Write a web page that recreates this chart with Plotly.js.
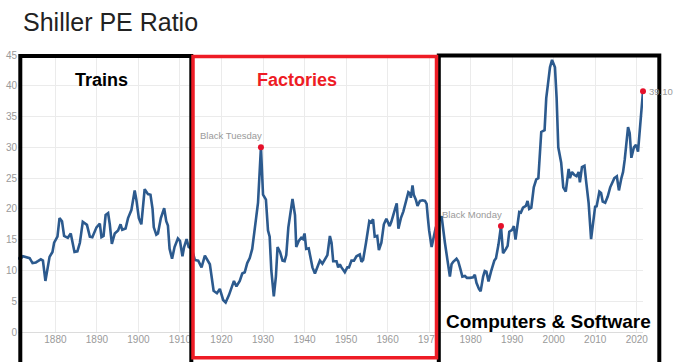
<!DOCTYPE html>
<html>
<head>
<meta charset="utf-8">
<script src="https://cdn.plot.ly/plotly-3.0.1.min.js"></script>
<style>html,body{margin:0;padding:0;background:#fff;}#chart{width:680px;height:362px;}</style>
</head>
<body>
<div id="chart"></div>
<script>
// Shiller PE ratio
const years = [
1871.0,1871.6,1872.2,1873.0,1873.8,1874.5,1875.3,1875.8,1876.5,1877.0,1877.6,1878.6,1879.3,1879.7,1880.5,1881.0,1881.6,1882.1,1883.0,1883.7,
1884.6,1885.3,1885.9,1886.6,1887.6,1888.3,1888.9,1889.9,1890.7,1891.1,1891.6,1892.1,1892.7,1893.1,1893.6,1894.3,1895.1,1895.7,1896.1,1896.9,
1897.5,1898.3,1899.1,1899.5,1900.1,1900.7,1901.5,1902.3,1902.9,1903.4,1903.7,1904.3,1904.7,1905.4,1906.2,1906.7,1907.1,1907.5,1908.1,1908.7,
1909.5,1910.0,1910.6,1911.0,1911.6,1912.1,1912.8,1913.6,1914.4,1915.2,1916.0,1917.2,1918.1,1918.9,1919.6,1920.4,1921.0,1921.8,1922.8,1923.0,
1923.6,1924.4,1925.0,1925.6,1926.2,1926.8,1927.4,1928.2,1928.8,1929.5,1930.0,1930.7,1931.2,1931.6,1932.0,1932.6,1933.1,1933.5,1934.1,1934.7,
1935.2,1935.6,1936.1,1937.1,1937.7,1938.0,1938.6,1939.2,1939.6,1940.0,1940.4,1941.0,1941.4,1941.9,1942.5,1943.0,1943.7,1944.3,1944.9,1945.5,
1946.1,1946.5,1946.9,1947.7,1948.1,1948.5,1948.9,1949.7,1950.3,1950.7,1951.3,1951.9,1952.5,1953.3,1953.7,1954.1,1954.8,1955.6,1956.0,1956.5,
1956.9,1957.5,1957.9,1958.5,1959.1,1959.7,1960.5,1960.9,1961.8,1962.2,1962.6,1963.2,1963.8,1964.4,1965.0,1965.4,1965.6,1966.0,1966.3,1966.8,
1967.2,1967.8,1968.4,1969.0,1969.4,1969.7,1970.0,1970.6,1971.0,1971.6,1972.6,1973.0,1973.8,1974.4,1975.0,1975.4,1975.8,1976.6,1977.0,1977.5,
1978.0,1978.6,1979.1,1979.8,1980.6,1981.0,1981.4,1982.0,1982.4,1983.0,1983.4,1983.8,1984.3,1984.9,1985.7,1986.1,1986.7,1987.3,1987.8,1988.5,
1988.9,1989.3,1990.0,1990.4,1990.8,1991.1,1991.7,1992.1,1992.6,1993.3,1993.7,1994.1,1994.6,1995.2,1995.8,1996.3,1997.0,1997.8,1998.2,1998.6,
1999.1,1999.6,2000.3,2000.7,2001.1,2001.8,2002.3,2002.9,2003.6,2003.9,2004.4,2005.0,2005.5,2006.0,2006.3,2006.8,2007.4,2007.8,2008.4,2009.0,
2009.4,2010.0,2010.3,2011.0,2011.4,2011.8,2012.4,2013.0,2013.6,2014.2,2014.6,2015.2,2015.7,2016.3,2016.7,2017.1,2017.9,2018.3,2018.7,2019.3,
2019.8,2020.3,2020.9,2021.5
];
const peRatio = [
12.0,11.9,12.3,12.2,12.0,11.2,11.3,11.5,11.8,11.6,8.3,12.2,13.0,14.5,15.5,18.5,18.0,15.6,15.3,16.0,
13.0,13.1,14.5,17.9,17.4,15.5,15.4,17.0,17.6,15.4,15.6,19.0,19.3,17.5,14.3,16.0,16.5,17.5,16.6,16.8,
18.5,19.8,23.0,21.5,18.5,17.5,23.2,22.4,22.3,20.0,17.0,15.8,16.0,18.5,20.1,18.0,17.3,13.5,11.9,13.8,
15.2,14.8,12.3,13.8,15.1,13.8,13.6,11.7,11.6,10.5,12.4,11.0,6.7,6.3,7.0,5.2,4.8,6.0,8.0,8.3,
7.4,8.3,9.5,9.7,11.2,12.0,13.5,18.0,21.0,30.0,22.3,21.5,16.5,15.5,10.0,5.8,9.0,13.8,13.0,11.6,
11.5,12.5,17.0,21.6,19.0,13.8,14.8,15.3,15.1,16.0,13.5,13.6,12.3,10.5,9.5,10.5,11.6,11.1,11.8,12.5,
15.6,14.5,11.5,11.5,10.5,11.0,10.5,9.7,10.5,10.5,11.6,11.6,12.3,12.6,11.4,11.7,14.5,18.0,17.8,18.3,
15.5,15.6,13.3,14.5,17.5,18.4,17.2,17.9,20.0,20.9,16.8,18.5,19.6,21.4,22.7,22.5,21.8,23.8,22.3,21.5,
20.5,21.3,21.4,21.3,20.8,18.5,16.5,13.8,15.2,17.0,18.3,18.8,14.5,11.5,9.0,11.0,11.4,11.9,11.5,10.3,
9.0,9.1,8.8,8.8,8.9,9.3,8.0,7.0,6.6,9.0,9.9,9.8,8.2,9.8,11.6,12.0,14.2,17.2,12.8,13.5,
14.0,16.3,16.6,17.2,15.0,16.5,19.5,19.4,20.2,20.5,21.3,20.0,20.2,23.5,24.8,25.0,32.5,32.8,38.0,40.2,
43.0,44.2,43.0,38.0,30.0,27.5,23.5,22.8,26.5,25.0,26.0,25.5,25.3,26.0,24.3,26.8,27.0,24.5,21.0,15.1,
17.3,20.5,20.3,22.8,22.6,21.2,21.0,22.0,23.5,24.5,25.0,25.3,23.0,25.0,26.0,28.0,33.3,32.3,28.3,30.0,
30.4,29.3,34.0,39.1
];
const eventNames = ["Black Tuesday", "Black Monday"];
const eventYears = [1929.5, 1987.3];
const eventValues = [30.0, 17.2];
const sectionNames = ["Trains", "Factories", "Computers & Software"];
const xTicks = [1880, 1890, 1900, 1910, 1920, 1930, 1940, 1950, 1960, 1970, 1980, 1990, 2000, 2010, 2020];

const lastYear = years[years.length - 1];
const lastValue = peRatio[peRatio.length - 1];

const font = 'Arial, "Liberation Sans", Helvetica, sans-serif';
const labelFont = {family: font, size: 9.5, color: '#9a9a9a'};

const traces = [
  {
    x: years, y: peRatio, type: 'scatter', mode: 'lines',
    line: {color: '#2c5a8e', width: 2.6, shape: 'linear'},
    hoverinfo: 'x+y', showlegend: false
  },
  {
    x: eventYears.concat([lastYear]),
    y: eventValues.concat([lastValue]),
    type: 'scatter', mode: 'markers',
    marker: {color: '#e5102a', size: 6},
    cliponaxis: false, showlegend: false
  }
];

// pixel -> paper helpers (plot area: x 18..643, y 55..332)
const L = 18, R = 37, T = 55, B = 30, W = 680, H = 362;
const pw = W - L - R, ph = H - T - B;
const px = v => (v - L) / pw;
const py = v => (H - B - v) / ph;

const annotations = [
  {text: '<b>' + sectionNames[0] + '</b>', xref: 'paper', yref: 'paper',
   x: px(101), y: py(79.5), xanchor: 'center', yanchor: 'middle', showarrow: false,
   font: {family: font, size: 18, color: '#000'}},
  {text: '<b>' + sectionNames[1] + '</b>', xref: 'paper', yref: 'paper',
   x: px(297), y: py(79.5), xanchor: 'center', yanchor: 'middle', showarrow: false,
   font: {family: font, size: 18, color: '#ee1c25'}},
  {text: '<b>' + sectionNames[2] + '</b>', xref: 'paper', yref: 'paper',
   x: px(548.5), y: py(321), xanchor: 'center', yanchor: 'middle', showarrow: false,
   font: {family: font, size: 19, color: '#000'}}
];
eventNames.forEach((name, i) => {
  annotations.push({
    text: name, xref: 'x', yref: 'y', x: eventYears[i], y: eventValues[i],
    xanchor: 'right', yanchor: 'bottom', yshift: 4, xshift: 3, showarrow: false,
    font: labelFont
  });
});
annotations.push({
  text: lastValue.toFixed(2), xref: 'x', yref: 'y', x: lastYear, y: lastValue,
  xanchor: 'left', yanchor: 'middle', xshift: 4, showarrow: false, font: labelFont
});

const layout = {
  width: W, height: H,
  margin: {l: L, r: R, t: T, b: B, pad: 0},
  paper_bgcolor: '#fff', plot_bgcolor: '#fff',
  font: {family: font},
  title: {
    text: 'Shiller PE Ratio',
    font: {family: font, size: 25, color: '#222'},
    xref: 'container', yref: 'container',
    x: 23 / W, xanchor: 'left', y: 1 - 22 / H, yanchor: 'middle'
  },
  xaxis: {
    range: [1871, 2021.5], tickvals: xTicks, ticks: '',
    showgrid: true, gridcolor: '#ebebeb', gridwidth: 1,
    zeroline: false, showline: false,
    tickfont: {family: font, size: 10, color: '#9a9a9a'}
  },
  yaxis: {
    range: [0, 45], dtick: 5, tick0: 0, ticks: '',
    showgrid: true, gridcolor: '#ebebeb', gridwidth: 1,
    zeroline: true, zerolinecolor: '#dcdcdc', zerolinewidth: 1,
    showline: false,
    tickfont: {family: font, size: 10, color: '#9a9a9a'}
  },
  shapes: [
    {type: 'rect', xref: 'paper', yref: 'paper', layer: 'above',
     x0: px(20.3), x1: px(191.3), y0: py(372), y1: py(56),
     line: {color: '#000', width: 4}, fillcolor: 'rgba(0,0,0,0)'},
    {type: 'rect', xref: 'paper', yref: 'paper', layer: 'above',
     x0: px(438.8), x1: px(659.3), y0: py(372), y1: py(55.5),
     line: {color: '#000', width: 4}, fillcolor: 'rgba(0,0,0,0)'},
    {type: 'rect', xref: 'paper', yref: 'paper', layer: 'above',
     x0: px(193), x1: px(436.5), y0: py(357.8), y1: py(56.5),
     line: {color: '#ee1c25', width: 3.5}, fillcolor: 'rgba(0,0,0,0)'}
  ],
  annotations: annotations
};

Plotly.newPlot('chart', traces, layout, {staticPlot: true, displayModeBar: false});
</script>
</body>
</html>
